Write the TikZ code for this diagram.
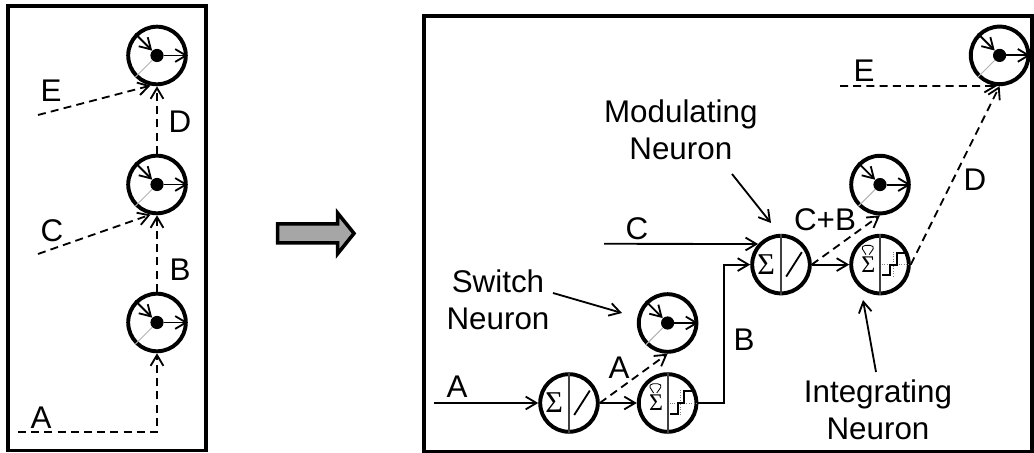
\documentclass[tikz,border=0pt]{standalone}
\usepackage{fontspec}
\setmainfont{Liberation Sans}
\newfontfamily\sigmafont{Liberation Serif}
\usetikzlibrary{arrows.meta}

% inside of a switch neuron
\newcommand{\swinside}[1]{
\node[dotc] (#1d) at (#1) {};
\draw[->, thinl] (#1.135)--(#1d);
\draw[->, thinl] (#1d)--(#1.east);
\draw[black!30, line width=0.7pt] (#1d)--(#1.225);
}
% inside of a modulating neuron
\newcommand{\modinside}[1]{
\draw[thinl, black!75] (#1.north)--(#1.south);
\node[font=\sigmafont\fontsize{21.5}{24}\selectfont, inner sep=0pt] (#1s) at ([xshift=-0.37cm]#1) {Σ};
\begin{scope}[shift={(#1)}]
\draw[thinl] (0.13,-0.3)--(0.52,0.31);
\end{scope}
}
% inside of an integrating neuron
\newcommand{\intinside}[1]{
\draw[thinl, black!75] (#1.north)--(#1.south);
\node[font=\sigmafont\fontsize{17}{19}\selectfont, inner sep=0pt] (#1s) at ([xshift=-0.29cm]#1) {Σ};
\begin{scope}[shift={(#1)}]
\draw[line width=0.6pt, rounded corners=1pt] (-0.35,0.25)--(-0.46,0.42)--(-0.4,0.48)--(-0.21,0.48)--(-0.15,0.42)--(-0.27,0.25);
\draw[black!50, densely dotted, line width=0.7pt] (0.05,0)--(0.75,0);
\draw[black!50, densely dotted, line width=0.7pt] (0.33,-0.3)--(0.33,0.33);
\draw[thinl] (0.06,-0.27)--(0.25,-0.27)--(0.25,0)--(0.42,0)--(0.42,0.29)--(0.64,0.29);
\end{scope}
}

\begin{document}
\begin{tikzpicture}[>={Straight Barb[length=2.7mm,width=3.2mm]},
   font=\fontsize{22.3}{26.3}\selectfont,
   thinl/.style={line width=1.3pt},
   dashl/.style={line width=1.3pt, dash pattern=on 2mm off 1.3mm},
   box/.style={line width=2.5pt},
   neuron/.style={circle, draw, line width=2.8pt, minimum size=1.44cm, inner sep=0pt},
   dotc/.style={circle, fill, minimum size=0.33cm, inner sep=0pt}]
\useasboundingbox (0,0) rectangle (25.85,11.325);
\draw[box] (0.2,0.0625) rectangle (5.15,11.175);
\draw[box] (10.6,0.04) rectangle (25.8,10.925);

% before
\node[neuron] (L1) at (3.925,3.2625) {};
\node[neuron] (L2) at (3.925,6.7125) {};
\node[neuron] (L3) at (3.925,9.9375) {};
\swinside{L1} \swinside{L2} \swinside{L3}
\coordinate (La) at (0.45,0.525);
\coordinate (Lc) at (0.95,4.975);
\coordinate (Le) at (0.95,8.45);
\draw[->, dashl] (La) -| (L1.south);
\draw[->, dashl] (L1.north)--(L2.south);
\draw[->, dashl] (L2.north)--(L3.south);
\draw[->, dashl] (Lc)--(L2.258);
\draw[->, dashl] (Le)--(L3.258);
\node (tLa) at (1.025,0.875) {A};
\node (tLb) at (4.5,4.575) {B};
\node (tLc) at (1.3,5.55) {C};
\node (tLd) at (4.5,8.275) {D};
\node (tLe) at (1.275,9.05) {E};

% big arrow
\draw[box, fill=black!35, miter limit=10] (6.94,5.725)--(8.44,5.725)--(8.44,6.0)--(8.85,5.49)--(8.44,4.98)--(8.44,5.25)--(6.94,5.25)--cycle;

% after
\node[neuron] (S1) at (16.69,3.25) {};
\node[neuron] (S2) at (22,6.71) {};
\node[neuron] (S3) at (24.99,9.94) {};
\node[neuron] (M1) at (14.225,1.25) {};
\node[neuron] (I1) at (16.69,1.25) {};
\node[neuron] (M2) at (19.525,4.71) {};
\node[neuron] (I2) at (22,4.71) {};
\swinside{S1} \swinside{S2} \swinside{S3}
\modinside{M1} \modinside{M2}
\intinside{I1} \intinside{I2}
\coordinate (Ra) at (10.85,1.25);
\coordinate (Rb) at (18.1,4.71);
\coordinate (Rc) at (15.1,5.23);
\coordinate (Re) at (21,9.175);
\draw[->, thinl] (Ra)--(M1.west);
\draw[->, thinl] (M1.east)--(I1.west);
\draw[->, thinl] (I1.east) -| (Rb)--(M2.west);
\draw[->, thinl] (Rc)--(M2.138);
\draw[->, thinl] (M2.east)--(I2.west);
\draw[->, dashl] (M1.east)--(S1.south);
\draw[->, dashl] (M2.east)--(S2.south);
\draw[->, dashl] (I2.east)--(S3.south);
\draw[->, dashl] (Re)--(S3.265);
\node (tRa) at (11.425,1.65) {A};
\node (tRa2) at (15.475,2.14) {A};
\node (tRb) at (18.6,2.825) {B};
\node (tRc) at (15.925,5.6) {C};
\node (tRcb) at (20.625,5.825) {C+B};
\node (tRd) at (24.375,6.825) {D};
\node (tRe) at (21.6,9.55) {E};
\node[align=center] (tMod) at (17.02,8.075) {Modulating\\Neuron};
\node[align=center] (tSw) at (12.45,3.825) {Switch\\Neuron};
\node[align=center] (tInt) at (21.95,1.075) {Integrating\\Neuron};
\coordinate (pSw) at (13.825,4.0);
\coordinate (pMod) at (18.3,6.975);
\coordinate (pInt) at (21.9,2.025);
\draw[->, thinl] (pSw)--(15.55,3.5);
\draw[->, thinl] (pMod)--(19.275,5.75);
\draw[->, thinl] (pInt)--(21.575,3.825);
\end{tikzpicture}
\end{document}
